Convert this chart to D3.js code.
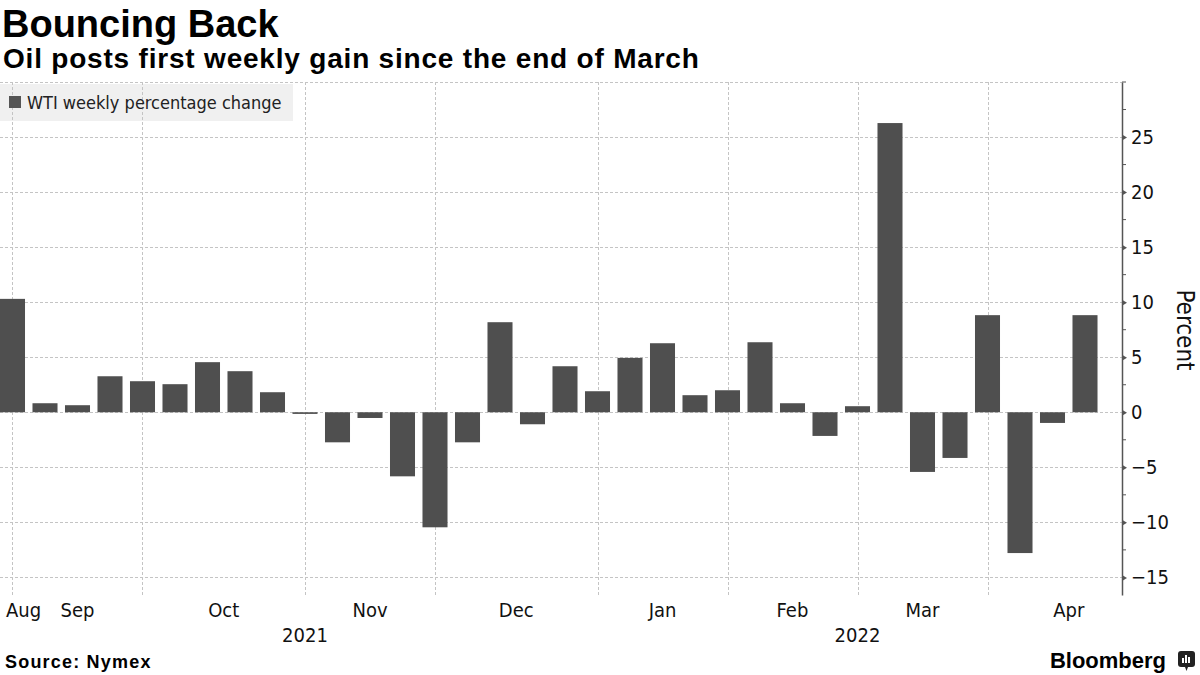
<!DOCTYPE html>
<html><head><meta charset="utf-8">
<script src="https://cdn.jsdelivr.net/npm/d3@7"></script>
<style>body{margin:0;background:#fff;} svg{display:block}</style>
</head><body><svg id="c" width="1200" height="675"></svg>
<script>
// ---- data ----
const weeks = ["2021-08-27","2021-09-03","2021-09-10","2021-09-17","2021-09-24","2021-10-01","2021-10-08","2021-10-15","2021-10-22","2021-10-29","2021-11-05","2021-11-12","2021-11-19","2021-11-26","2021-12-03","2021-12-10","2021-12-17","2021-12-23","2021-12-31","2022-01-07","2022-01-14","2022-01-21","2022-01-28","2022-02-04","2022-02-11","2022-02-18","2022-02-25","2022-03-04","2022-03-11","2022-03-18","2022-03-25","2022-04-01","2022-04-08","2022-04-14"];
const values = [10.3,0.82,0.64,3.27,2.82,2.55,4.55,3.73,1.82,-0.15,-2.73,-0.52,-5.82,-10.45,-2.73,8.18,-1.09,4.18,1.91,4.94,6.27,1.55,2.0,6.36,0.82,-2.15,0.55,26.27,-5.42,-4.15,8.82,-12.79,-0.97,8.82];
const seriesName = "WTI weekly percentage change";
const monthLabels = ["Aug","Sep","Oct","Nov","Dec","Jan","Feb","Mar","Apr"];
const monthEndIdx = [0,4,9,13,18,22,26,30,35]; // last week of each month (week index)
const yearLabels = ["2021","2022"];
const yearAnchorIdx = [9,26];
const yTicks = [-15,-10,-5,0,5,10,15,20,25];
const yMinorTicks = [-12.5,-7.5,-2.5,2.5,7.5,12.5,17.5,22.5,27.5,30];
const yDomain = [-16.6, 30];

// ---- layout ----
const svg = d3.select("#c");
const P = {left:0, right:1122, top:82, bottom:595};
const labelFont = "'DejaVu Sans Condensed','Liberation Sans Narrow','Liberation Sans',sans-serif";

const x = d3.scaleBand().domain(d3.range(weeks.length))
  .range([-3.75, 1101.25]).paddingInner(0.23).paddingOuter(0.115);
const center = i => x(0) + i * x.step() + x.bandwidth() / 2;
const y = d3.scaleLinear().domain(yDomain).range([P.bottom, P.top]);

// legend background
svg.append("rect").attr("x",0).attr("y",84).attr("width",293).attr("height",37).attr("fill","#f0f0f0");

// gridlines
const grid = svg.append("g").attr("stroke","#c4c4c4").attr("stroke-width",1).attr("stroke-dasharray","3,2");
grid.selectAll("line.h").data(yTicks.concat([30])).join("line").attr("class","h")
  .attr("x1",P.left).attr("x2",P.right).attr("y1",d=>Math.round(y(d))+0.5).attr("y2",d=>Math.round(y(d))+0.5);
grid.selectAll("line.v").data(monthEndIdx.filter(i=>i<weeks.length)).join("line").attr("class","v")
  .attr("x1",d=>Math.round(center(d))+0.5).attr("x2",d=>Math.round(center(d))+0.5)
  .attr("y1",P.top).attr("y2",P.bottom);

// bars
svg.append("g").selectAll("rect").data(values).join("rect")
  .attr("x",(d,i)=>x(i)).attr("width",x.bandwidth())
  .attr("y",d=>y(Math.max(0,d))).attr("height",d=>Math.abs(y(d)-y(0)))
  .attr("fill","#4f4f4f");

// legend
svg.append("rect").attr("x",9).attr("y",96).attr("width",12).attr("height",12).attr("fill","#555");
svg.append("text").attr("x",27).attr("y",109).attr("font-family",labelFont).attr("font-size",18)
  .attr("fill","#222").text(seriesName);

// y axis
const ax = svg.append("g").attr("transform",`translate(${P.right},0)`);
ax.call(d3.axisRight(y).tickValues(yTicks).tickSize(0).tickSizeOuter(0).tickPadding(9));
ax.select(".domain").attr("stroke","#555").attr("stroke-width",1.5);
ax.selectAll(".tick text").attr("font-family",labelFont).attr("font-size",20).attr("fill","#111");
ax.selectAll(".tick").append("path").attr("d","M0,-3L5,0L0,3Z").attr("fill","#555");
ax.selectAll("line.minor").data(yMinorTicks).join("line").attr("class","minor")
  .attr("x1",0).attr("x2",4).attr("y1",d=>y(d)).attr("y2",d=>y(d)).attr("stroke","#555").attr("stroke-width",1);
svg.append("text").attr("transform","translate(1177,330) rotate(90)").attr("text-anchor","middle")
  .attr("font-family",labelFont).attr("font-size",24).attr("fill","#111").text("Percent");

// x labels
const mPos = monthLabels.map((m,i)=> i===0 ? null : (center(monthEndIdx[i-1]) + center(monthEndIdx[i]))/2);
svg.append("g").selectAll("text").data(monthLabels).join("text")
  .attr("x",(d,i)=> i===0 ? 6 : mPos[i]).attr("y",617)
  .attr("text-anchor",(d,i)=> i===0 ? "start" : "middle")
  .attr("font-family",labelFont).attr("font-size",20).attr("fill","#111").text(d=>d);
svg.append("g").selectAll("text").data(yearLabels).join("text")
  .attr("x",(d,i)=>center(yearAnchorIdx[i])).attr("y",642).attr("text-anchor","middle")
  .attr("font-family",labelFont).attr("font-size",20).attr("fill","#111").text(d=>d);

// titles
svg.append("text").attr("x",2).attr("y",37).attr("font-family","'Liberation Sans',Arial,sans-serif")
  .attr("font-weight","bold").attr("font-size",38).attr("fill","#000").text("Bouncing Back");
svg.append("text").attr("x",3).attr("y",68).attr("font-family","'Liberation Sans',Arial,sans-serif")
  .attr("font-weight","bold").attr("font-size",28).attr("letter-spacing",0.8).attr("fill","#000")
  .text("Oil posts first weekly gain since the end of March");
svg.append("text").attr("x",5).attr("y",668).attr("font-family","'Liberation Sans',Arial,sans-serif")
  .attr("font-weight","bold").attr("font-size",18).attr("letter-spacing",1.2).attr("fill","#000").text("Source: Nymex");
svg.append("text").attr("x",1166).attr("y",668).attr("text-anchor","end").attr("font-family","'Liberation Sans',Arial,sans-serif")
  .attr("font-weight","bold").attr("font-size",22).attr("fill","#000").text("Bloomberg");
const logo = svg.append("g").attr("transform","translate(1178,651)");
logo.append("rect").attr("width",17).attr("height",16).attr("rx",3).attr("fill","#222");
logo.append("path").attr("d","M7,16L8.5,20L10,16Z").attr("fill","#222");
[[4,7],[7,4],[10,6]].forEach(([bx,by])=>logo.append("rect").attr("x",bx).attr("y",by).attr("width",2).attr("height",12-by).attr("fill","#fff"));
</script></body></html>
